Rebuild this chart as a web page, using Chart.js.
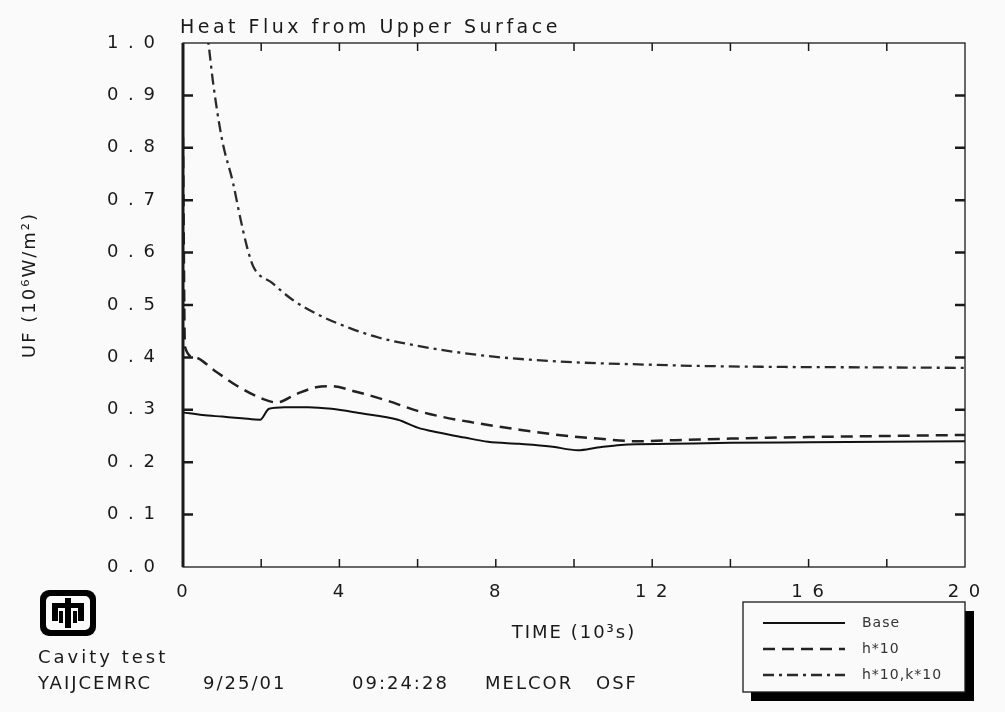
<!DOCTYPE html>
<html>
<head>
<meta charset="utf-8">
<script src="https://cdn.jsdelivr.net/npm/chart.js@4"></script>
<style>
  html, body { margin: 0; padding: 0; background: #fafafa; }
  #wrap { width: 1005px; height: 712px; }
</style>
</head>
<body>
<div id="wrap"><canvas id="fluxChart" width="1005" height="712"></canvas></div>
<script>
// time in 10^3 s, flux in 10^6 W/m^2
const baseTime = [0, 0.5, 1, 1.5, 1.97, 2.2, 2.6, 3.2, 3.8, 4.5, 5.5, 6.0, 6.5, 7.2, 7.8, 8.6, 9.4, 10.1, 10.6, 11.2, 12.5, 14, 16, 18, 20];
const baseFlux = [0.295, 0.29, 0.287, 0.284, 0.281, 0.302, 0.305, 0.305, 0.302, 0.294, 0.281, 0.266, 0.257, 0.247, 0.239, 0.235, 0.230, 0.223, 0.228, 0.233, 0.235, 0.237, 0.238, 0.239, 0.240];

const h10Time = [0, 0.05, 0.3, 0.8, 1.4, 2.0, 2.4, 2.9, 3.4, 3.8, 4.4, 5.2, 6.0, 6.6, 7.4, 8.6, 9.6, 10.6, 11.6, 12.6, 14, 16, 18, 20];
const h10Flux = [0.82, 0.42, 0.40, 0.375, 0.345, 0.322, 0.314, 0.33, 0.343, 0.345, 0.335, 0.318, 0.298, 0.287, 0.276, 0.262, 0.252, 0.245, 0.240, 0.242, 0.245, 0.248, 0.250, 0.252];

const hkTime = [0, 0.65, 0.77, 1.0, 1.28, 1.46, 1.64, 1.8, 2.28, 2.8, 3.5, 4.3, 5.0, 6.0, 7.0, 8.0, 9.0, 10.2, 11.5, 13, 15, 17.5, 20];
const hkFlux = [1.35, 1.0, 0.924, 0.815, 0.733, 0.668, 0.61, 0.573, 0.542, 0.51, 0.48, 0.455, 0.438, 0.422, 0.41, 0.401, 0.395, 0.390, 0.387, 0.384, 0.382, 0.381, 0.380];

const seriesNames = ["Base", "h*10", "h*10,k*10"];
const xTicks = [0, 4, 8, 12, 16, 20];

const ink = "#1a1a1a";
const labelFont = { family: "DejaVu Sans", size: 18 };

function pairs(xs, ys) {
    return xs.map((x, i) => ({ x: x, y: ys[i] }));
}

function spaced(s) {
    return String(s).split("").join(" ");
}

// wide plotter-style lettering for every label
const spacingPlugin = {
    id: "spacing",
    beforeDraw(chart) {
        chart.ctx.letterSpacing = "2px";
    }
};

// inner tick marks, frame, title, footer, legend and logo
const paperPlugin = {
    id: "paper",
    afterDraw(chart) {
        const ctx = chart.ctx;
        const a = chart.chartArea;
        const xs = chart.scales.x;
        const ys = chart.scales.y;
        ctx.save();
        ctx.strokeStyle = ink;
        ctx.lineWidth = 1.3;
        ctx.strokeRect(a.left, a.top, a.right - a.left, a.bottom - a.top);
        ctx.lineWidth = 3;
        ctx.beginPath();
        ctx.moveTo(a.left, a.top);
        ctx.lineTo(a.left, a.bottom);
        ctx.stroke();

        ctx.lineWidth = 2.5;
        for (let v = 1; v <= 9; v++) {
            const py = ys.getPixelForValue(v / 10);
            ctx.beginPath();
            ctx.moveTo(a.left, py);
            ctx.lineTo(a.left + 10, py);
            ctx.moveTo(a.right, py);
            ctx.lineTo(a.right - 10, py);
            ctx.stroke();
        }
        ctx.lineWidth = 1.5;
        for (let t = 2; t < 20; t += 2) {
            const px = xs.getPixelForValue(t);
            ctx.beginPath();
            ctx.moveTo(px, a.bottom);
            ctx.lineTo(px, a.bottom - 8);
            ctx.moveTo(px, a.top);
            ctx.lineTo(px, a.top + 8);
            ctx.stroke();
        }

        ctx.fillStyle = ink;
        ctx.textBaseline = "middle";
        ctx.textAlign = "left";
        ctx.letterSpacing = "3.5px";
        ctx.font = "19px 'DejaVu Sans'";
        ctx.fillText("Heat Flux from Upper Surface", a.left - 3, 28);

        ctx.font = "18px 'DejaVu Sans'";
        ctx.letterSpacing = "3px";
        ctx.fillText("Cavity test", 38, 658);
        ctx.letterSpacing = "2px";
        ctx.fillText("YAIJCEMRC", 38, 684);
        ctx.fillText("9/25/01", 203, 684);
        ctx.fillText("09:24:28", 352, 684);
        ctx.fillText("MELCOR", 485, 684);
        ctx.fillText("OSF", 596, 684);

        // y axis title
        ctx.save();
        ctx.translate(30, 285);
        ctx.rotate(-Math.PI / 2);
        ctx.textAlign = "center";
        ctx.letterSpacing = "2px";
        ctx.font = "18px 'DejaVu Sans'";
        ctx.fillText("UF (10⁶W/m²)", 0, 0);
        ctx.restore();

        // logo
        ctx.fillStyle = "#000";
        ctx.beginPath();
        ctx.roundRect(40, 590, 56, 46, 9);
        ctx.fill();
        ctx.fillStyle = "#fafafa";
        ctx.beginPath();
        ctx.roundRect(46, 596, 44, 34, 5);
        ctx.fill();
        ctx.fillStyle = "#000";
        ctx.fillRect(65, 598, 6, 30);
        ctx.fillRect(52, 603, 32, 5);
        ctx.fillRect(52, 603, 6, 18);
        ctx.fillRect(78, 603, 6, 18);
        ctx.fillRect(59, 611, 4, 12);
        ctx.fillRect(73, 611, 4, 12);

        // legend box with shadow
        ctx.fillStyle = "#000";
        ctx.fillRect(751, 611, 223, 90);
        ctx.fillStyle = "#fafafa";
        ctx.fillRect(743, 602, 222, 90);
        ctx.lineWidth = 1.3;
        ctx.strokeStyle = ink;
        ctx.strokeRect(743, 602, 222, 90);
        const ds = chart.data.datasets;
        ctx.font = "14px 'DejaVu Sans'";
        ctx.letterSpacing = "1px";
        for (let i = 0; i < ds.length; i++) {
            const ly = 623 + i * 26;
            ctx.strokeStyle = ds[i].borderColor;
            ctx.lineWidth = ds[i].borderWidth;
            ctx.setLineDash(ds[i].borderDash || []);
            ctx.beginPath();
            ctx.moveTo(763, ly);
            ctx.lineTo(845, ly);
            ctx.stroke();
            ctx.setLineDash([]);
            ctx.fillStyle = "#333";
            ctx.fillText(ds[i].label, 862, ly);
        }
        ctx.restore();
    }
};

const ctx = document.getElementById("fluxChart").getContext("2d");

const fluxChart = new Chart(ctx, {
    type: "line",
    data: {
        datasets: [{
            label: seriesNames[0],
            data: pairs(baseTime, baseFlux),
            borderColor: "#111",
            borderWidth: 2,
            cubicInterpolationMode: "monotone",
            pointRadius: 0,
            fill: false
        }, {
            label: seriesNames[1],
            data: pairs(h10Time, h10Flux),
            borderColor: "#222",
            borderWidth: 2.5,
            borderDash: [12, 7],
            cubicInterpolationMode: "monotone",
            pointRadius: 0,
            fill: false
        }, {
            label: seriesNames[2],
            data: pairs(hkTime, hkFlux),
            borderColor: "#2a2a2a",
            borderWidth: 2.3,
            borderDash: [11, 5, 3, 5],
            cubicInterpolationMode: "monotone",
            pointRadius: 0,
            fill: false
        }]
    },
    options: {
        responsive: false,
        animation: false,
        layout: { padding: { top: 43, right: 40, bottom: 0, left: 0 } },
        plugins: {
            legend: { display: false },
            tooltip: { enabled: false }
        },
        scales: {
            x: {
                type: "linear",
                min: 0,
                max: 20,
                afterBuildTicks(scale) {
                    scale.ticks = xTicks.map(v => ({ value: v }));
                },
                afterFit(scale) { scale.height = 145; },
                grid: { display: false, drawTicks: false },
                border: { display: false },
                ticks: {
                    color: ink,
                    font: labelFont,
                    padding: 15,
                    maxRotation: 0,
                    autoSkip: false,
                    callback: v => spaced(v)
                },
                title: {
                    display: true,
                    text: "TIME (10³s)",
                    color: ink,
                    font: { family: "DejaVu Sans", size: 18 },
                    padding: { top: 0, bottom: 68 }
                }
            },
            y: {
                min: 0,
                max: 1,
                afterFit(scale) { scale.width = 183; },
                grid: { display: false, drawTicks: false },
                border: { display: false },
                ticks: {
                    stepSize: 0.1,
                    color: ink,
                    font: labelFont,
                    padding: 26,
                    callback: v => spaced(v.toFixed(1))
                },
                title: { display: false }
            }
        }
    },
    plugins: [spacingPlugin, paperPlugin]
});
</script>
</body>
</html>
